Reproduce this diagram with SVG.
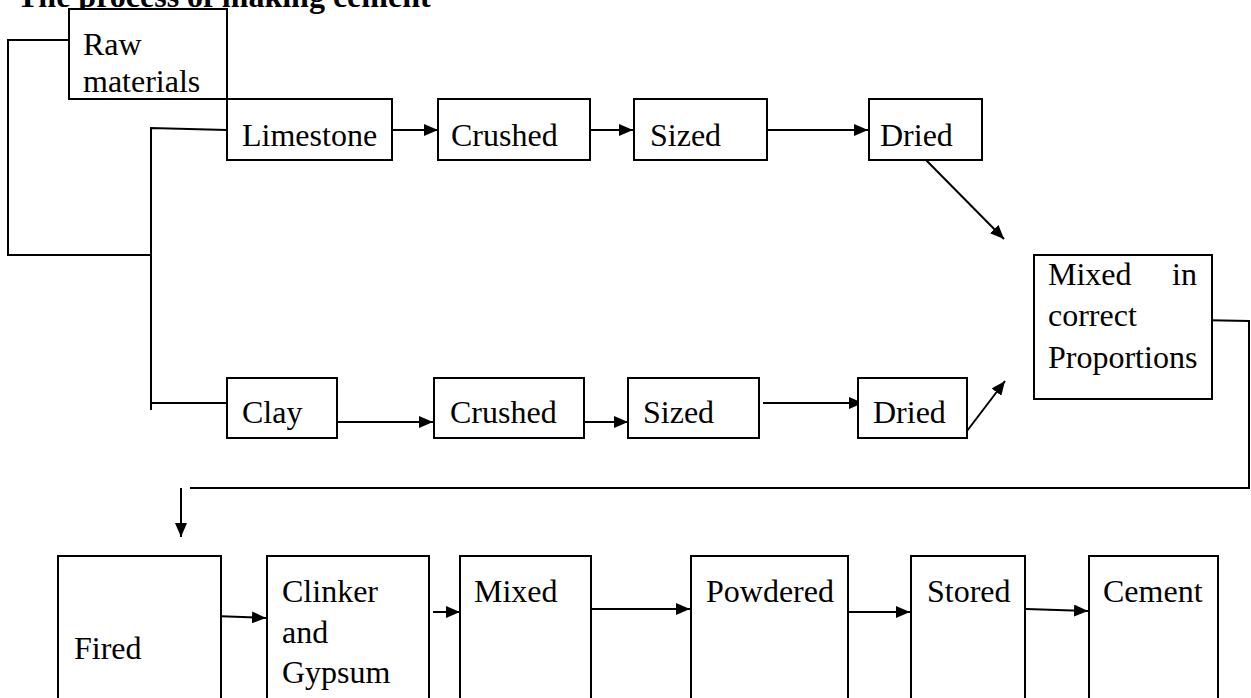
<svg xmlns="http://www.w3.org/2000/svg" width="1251" height="698" viewBox="0 0 1251 698">
<style>
.box{fill:#fff;stroke:#000;stroke-width:2}
.t{font-family:"Liberation Serif","Times New Roman",serif;font-size:32px;fill:#000}
.title{font-family:"Liberation Serif","Times New Roman",serif;font-size:32px;font-weight:bold;fill:#000}
.ln{fill:none;stroke:#000;stroke-width:2}
.ar{fill:none;stroke:#000;stroke-width:2;marker-end:url(#ah)}
</style>
<defs>
<marker id="ah" viewBox="0 0 14 12" refX="14" refY="6" markerWidth="14" markerHeight="12" markerUnits="userSpaceOnUse" orient="auto">
<path d="M0,0 L14,6 L0,12 z" fill="#000"/>
</marker>
</defs>
<rect width="1251" height="698" fill="#fff"/>
<text class="title" x="17" y="7">The process of making cement</text>

<g id="connectors">
<polyline class="ln" points="72,40 8,40 8,255 151,255"/>
<polyline class="ln" points="227,130 151,128 151,410"/>
<line class="ln" x1="151" y1="403" x2="227" y2="403"/>
<line class="ar" x1="392" y1="130" x2="438" y2="130"/>
<line class="ar" x1="584" y1="130" x2="633" y2="130"/>
<line class="ar" x1="763" y1="130" x2="868" y2="130"/>
<line class="ar" x1="926" y1="160" x2="1004" y2="239"/>
<line class="ar" x1="334" y1="422" x2="433" y2="422"/>
<line class="ar" x1="584" y1="422" x2="628" y2="422"/>
<line class="ar" x1="763" y1="403" x2="863" y2="403"/>
<line class="ar" x1="967" y1="431" x2="1005" y2="381"/>
<polyline class="ln" points="1197,320 1249,321 1249,488 190,488"/>
<line class="ar" x1="181" y1="488" x2="181" y2="537"/>
<line class="ar" x1="214" y1="616" x2="266" y2="618"/>
<line class="ar" x1="433" y1="612" x2="460" y2="612"/>
<line class="ar" x1="591" y1="609" x2="690" y2="609"/>
<line class="ar" x1="848" y1="612" x2="910" y2="612"/>
<line class="ar" x1="1026" y1="609" x2="1088" y2="611"/>
</g>

<g id="raw-materials">
<rect class="box" x="69" y="9" width="158" height="90"/>
<text class="t" x="83" y="55">Raw</text>
<text class="t" x="83" y="92">materials</text>
</g>
<g id="limestone">
<rect class="box" x="227" y="99" width="165" height="61"/>
<text class="t" x="242" y="146">Limestone</text>
</g>
<g id="crushed-1">
<rect class="box" x="438" y="99" width="152" height="61"/>
<text class="t" x="451" y="146">Crushed</text>
</g>
<g id="sized-1">
<rect class="box" x="634" y="99" width="133" height="61"/>
<text class="t" x="650" y="146">Sized</text>
</g>
<g id="dried-1">
<rect class="box" x="869" y="99" width="113" height="61"/>
<text class="t" x="880" y="146">Dried</text>
</g>
<g id="mixed-proportions">
<rect class="box" x="1034" y="255" width="178" height="144"/>
<text class="t" x="1048" y="285">Mixed</text>
<text class="t" x="1197" y="285" text-anchor="end">in</text>
<text class="t" x="1048" y="326">correct</text>
<text class="t" x="1048" y="368">Proportions</text>
</g>
<g id="clay">
<rect class="box" x="227" y="378" width="110" height="60"/>
<text class="t" x="242" y="423">Clay</text>
</g>
<g id="crushed-2">
<rect class="box" x="434" y="378" width="150" height="60"/>
<text class="t" x="450" y="423">Crushed</text>
</g>
<g id="sized-2">
<rect class="box" x="628" y="378" width="131" height="60"/>
<text class="t" x="643" y="423">Sized</text>
</g>
<g id="dried-2">
<rect class="box" x="858" y="378" width="109" height="60"/>
<text class="t" x="873" y="423">Dried</text>
</g>
<g id="fired">
<rect class="box" x="58" y="556" width="163" height="160"/>
<text class="t" x="74" y="659">Fired</text>
</g>
<g id="clinker-gypsum">
<rect class="box" x="267" y="556" width="162" height="160"/>
<text class="t" x="282" y="602">Clinker</text>
<text class="t" x="282" y="643">and</text>
<text class="t" x="282" y="683">Gypsum</text>
</g>
<g id="mixed">
<rect class="box" x="460" y="556" width="131" height="160"/>
<text class="t" x="474" y="602">Mixed</text>
</g>
<g id="powdered">
<rect class="box" x="691" y="556" width="157" height="160"/>
<text class="t" x="706" y="602">Powdered</text>
</g>
<g id="stored">
<rect class="box" x="911" y="556" width="114" height="160"/>
<text class="t" x="927" y="602">Stored</text>
</g>
<g id="cement">
<rect class="box" x="1089" y="556" width="129" height="160"/>
<text class="t" x="1103" y="602">Cement</text>
</g>
</svg>
